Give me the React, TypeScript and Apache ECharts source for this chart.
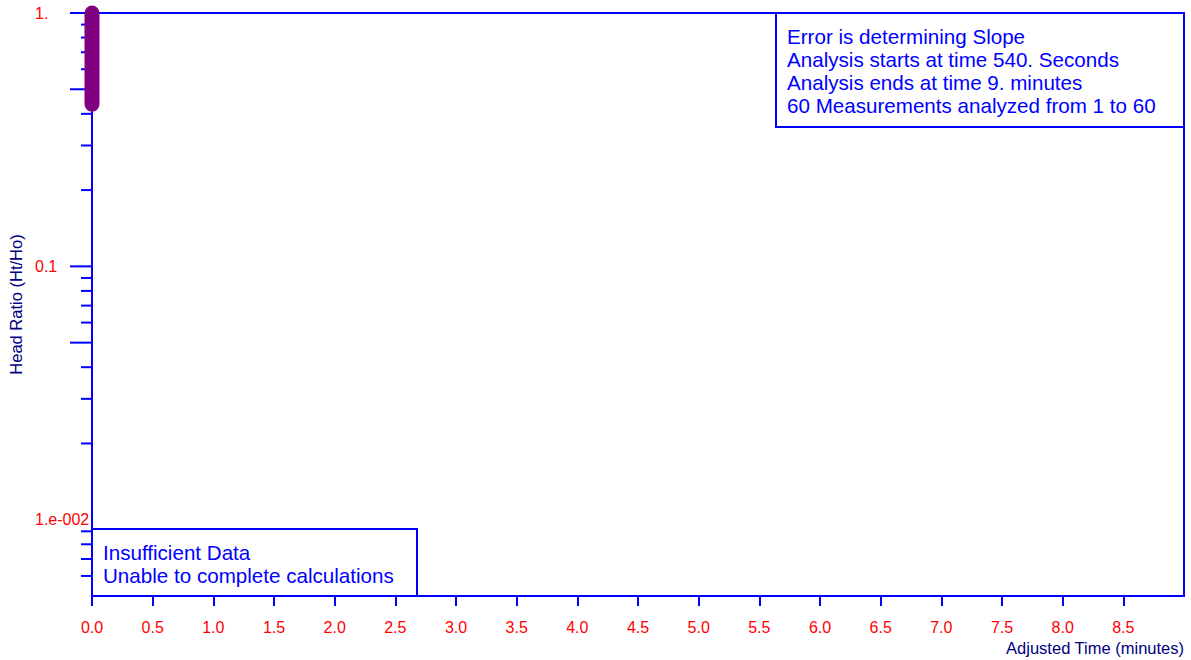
import React, { useEffect, useRef } from "react";
import * as echarts from "echarts";

// ---- data ----
const timeMinutes = [0, 0];
const headRatio = [1.0, 0.437];

const xTickValues = [0, 0.5, 1, 1.5, 2, 2.5, 3, 3.5, 4, 4.5, 5, 5.5, 6, 6.5, 7, 7.5, 8, 8.5];
const yLabelValues = [1, 0.1, 0.01];
const yLabelTexts = ["1.", "0.1", "1.e-002"];
const yLongTicks = [1, 0.5, 0.1, 0.05];
const yShortTicks = [0.9, 0.8, 0.7, 0.6, 0.4, 0.3, 0.2, 0.09, 0.08, 0.07, 0.06, 0.04, 0.03, 0.02, 0.009, 0.008, 0.007, 0.006];

const infoLines = [
  "Error is determining Slope",
  "Analysis starts at time 540. Seconds",
  "Analysis ends at time 9. minutes",
  "60 Measurements analyzed from 1 to 60",
];
const warnLines = ["Insufficient Data", "Unable to complete calculations"];

const FONT = '"Liberation Sans", Arial, sans-serif';
const BLUE = "#0000ff";
const RED = "#ff0000";
const NAVY = "#000080";
const PURPLE = "#800080";

export default function App() {
  const ref = useRef<HTMLDivElement>(null);
  useEffect(() => {
    if (!ref.current) return;
    const chart = echarts.init(ref.current, null, { renderer: "svg" });
    const tickData = [
      ...yLongTicks.map((v) => [0, v, 22]),
      ...yShortTicks.map((v) => [0, v, 11]),
    ];
    chart.setOption({
      animation: false,
      textStyle: { fontFamily: FONT },
      grid: {
        left: 92,
        right: 7,
        top: 13,
        bottom: 64,
        containLabel: false,
        outerBoundsMode: "none",
        show: true,
        borderColor: BLUE,
        borderWidth: 2,
        backgroundColor: "transparent",
      },
      xAxis: {
        type: "value",
        min: 0,
        max: 9,
        interval: 0.5,
        axisLine: { lineStyle: { color: BLUE, width: 2 } },
        axisTick: { show: true, length: 10, lineStyle: { color: BLUE, width: 2 }, customValues: xTickValues },
        axisLabel: {
          customValues: xTickValues,
          color: RED,
          fontSize: 16,
          margin: 23,
          fontFamily: FONT,
          formatter: (v: number) => (v >= 9 ? "" : v.toFixed(1)),
        },
        splitLine: { show: false },
      },
      yAxis: {
        type: "log",
        logBase: 10,
        min: 0.005,
        max: 1,
        name: "Head Ratio (Ht/Ho)",
        nameLocation: "middle",
        nameGap: 66,
        nameRotate: 90,
        nameTextStyle: { color: NAVY, fontSize: 16.5, fontFamily: FONT },
        axisLine: { lineStyle: { color: BLUE, width: 2 } },
        axisTick: { show: false },
        axisLabel: {
          color: RED,
          fontSize: 16,
          align: "left",
          margin: 57,
          fontFamily: FONT,
          formatter: (v: number) => {
            for (let i = 0; i < yLabelValues.length; i++) {
              if (Math.abs(v - yLabelValues[i]) / yLabelValues[i] < 1e-6) return yLabelTexts[i];
            }
            return "";
          },
        },
        splitLine: { show: false },
      },
      series: [
        {
          type: "custom",
          silent: true,
          z: 1,
          clip: false,
          data: tickData,
          encode: { x: 0, y: 1 },
          renderItem: (params: any, api: any) => {
            const p = api.coord([api.value(0), api.value(1)]);
            const len = api.value(2);
            return {
              type: "line",
              shape: { x1: p[0] - len, y1: p[1], x2: p[0], y2: p[1] },
              style: { stroke: BLUE, lineWidth: 2 },
            };
          },
        },
        {
          type: "line",
          data: timeMinutes.map((t, i) => [t, headRatio[i]]),
          symbol: "none",
          clip: false,
          z: 5,
          lineStyle: { color: PURPLE, width: 15, cap: "round" },
        },
      ],
      graphic: [
        {
          type: "rect",
          z: 10,
          shape: { x: 776, y: 13, width: 408, height: 114 },
          style: { fill: "#ffffff", stroke: BLUE, lineWidth: 2 },
        },
        {
          type: "text",
          z: 11,
          x: 787,
          y: 24.5,
          style: {
            text: infoLines.join("\n"),
            fill: BLUE,
            fontSize: 20.6,
            fontFamily: FONT,
            lineHeight: 23,
            verticalAlign: "top",
            align: "left",
          },
        },
        {
          type: "rect",
          z: 10,
          shape: { x: 92, y: 529, width: 325, height: 67 },
          style: { fill: "#ffffff", stroke: BLUE, lineWidth: 2 },
        },
        {
          type: "text",
          z: 11,
          x: 103,
          y: 540.5,
          style: {
            text: warnLines.join("\n"),
            fill: BLUE,
            fontSize: 20.6,
            fontFamily: FONT,
            lineHeight: 23,
            verticalAlign: "top",
            align: "left",
          },
        },
        {
          type: "text",
          z: 11,
          x: 1184,
          y: 648,
          style: {
            text: "Adjusted Time (minutes)",
            fill: NAVY,
            fontSize: 16.5,
            fontFamily: FONT,
            align: "right",
            verticalAlign: "middle",
          },
        },
      ],
    });
    return () => chart.dispose();
  }, []);
  return (
    <div
      ref={ref}
      style={{ position: "fixed", left: 0, top: 0, width: 1191, height: 660, background: "#ffffff" }}
    />
  );
}
